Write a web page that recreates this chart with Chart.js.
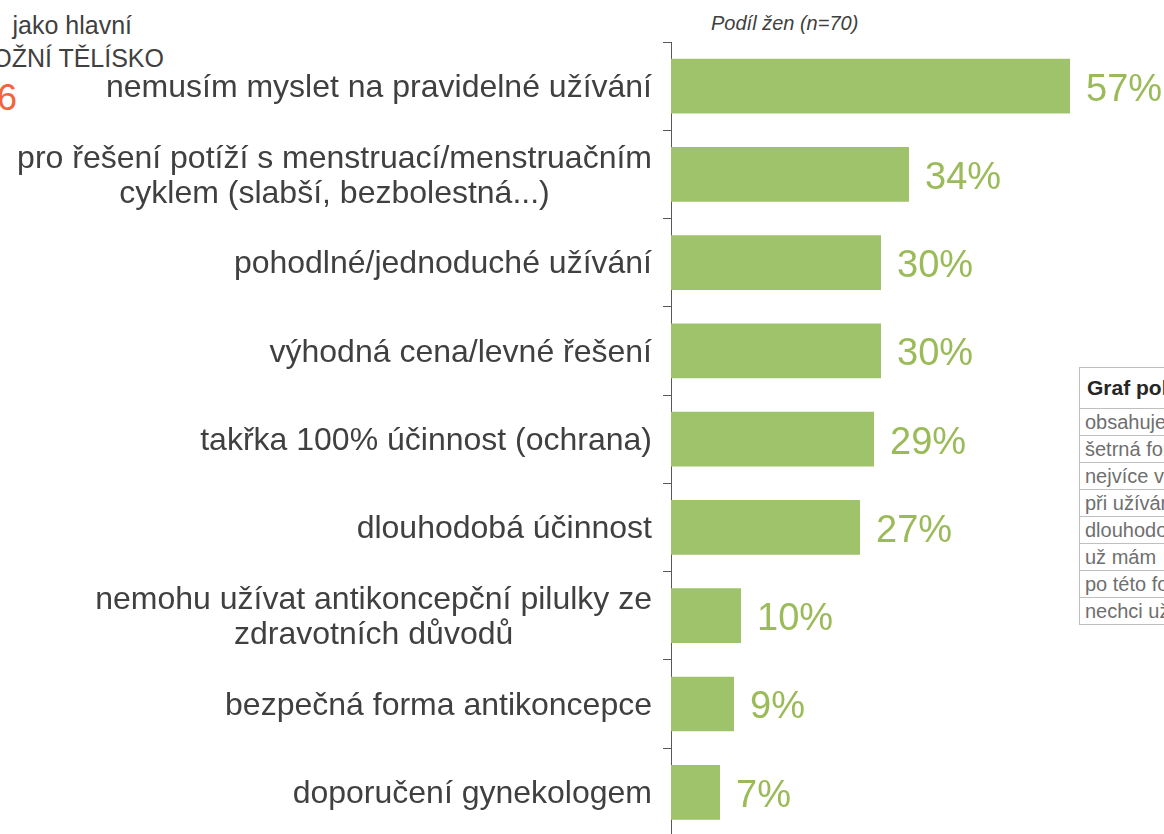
<!DOCTYPE html>
<html>
<head>
<meta charset="utf-8">
<script src="https://cdn.jsdelivr.net/npm/chart.js@4"></script>
<style>
  body { margin: 0; width: 1164px; height: 834px; overflow: hidden; position: relative; background: #fff; font-family: "Liberation Sans", Arial, sans-serif; }
  #chartBox { position: absolute; left: 0; top: 0; width: 1164px; height: 840px; }
  .side { position: absolute; color: #404040; white-space: nowrap; line-height: 1; }
  #subtitle { position: absolute; left: 711px; top: 12px; font-size: 20px; font-style: italic; color: #404040; }
  #sideTable { position: absolute; left: 1079px; top: 367px; width: 240px; border-collapse: collapse; font-size: 20px; color: #6f6f6f; }
  #sideTable th { text-align: left; font-weight: bold; font-size: 21px; color: #262626; height: 40px; padding: 0 0 0 7px; border: 1px solid #bfbfbf; }
  #sideTable td { height: 26px; padding: 0 0 0 5px; border: 1px solid #bfbfbf; white-space: nowrap; line-height: 1; }
</style>
</head>
<body>
<div class="side" style="right:1032px; top:13px; font-size:25px;">jako hlavní</div>
<div class="side" style="right:1000px; top:46px; font-size:25px;">NITRODĚLOŽNÍ TĚLÍSKO</div>
<div class="side" style="left:-3px; top:80px; font-size:36px; color:#F0663A;">6</div>
<div id="subtitle">Podíl žen (n=70)</div>
<table id="sideTable">
  <tr><th>Graf pokračuje</th></tr>
  <tr><td>obsahuje méně hormonů</td></tr>
  <tr><td>šetrná forma</td></tr>
  <tr><td>nejvíce vyhovuje</td></tr>
  <tr><td>při užívání</td></tr>
  <tr><td>dlouhodobé</td></tr>
  <tr><td>už mám</td></tr>
  <tr><td>po této formě</td></tr>
  <tr><td>nechci užívat</td></tr>
</table>
<div id="chartBox"><canvas id="chart" width="1164" height="840"></canvas></div>
<script>
const categories = [
  ["nemusím myslet na pravidelné užívání"],
  ["pro řešení potíží s menstruací/menstruačním", "cyklem (slabší, bezbolestná...)"],
  ["pohodlné/jednoduché užívání"],
  ["výhodná cena/levné řešení"],
  ["takřka 100% účinnost (ochrana)"],
  ["dlouhodobá účinnost"],
  ["nemohu užívat antikoncepční pilulky ze", "zdravotních důvodů"],
  ["bezpečná forma antikoncepce"],
  ["doporučení gynekologem"]
];
const shares = [57, 34, 30, 30, 29, 27, 10, 9, 7];

const barColor = "#9FC36A";
const valueColor = "#9BBB59";
const textColor = "#404040";

// draws the category labels (centered lines, block right-aligned) and values
const labelPlugin = {
  id: "labelPlugin",
  afterDatasetsDraw(chart) {
    const ctx = chart.ctx;
    const yScale = chart.scales.y;
    const meta = chart.getDatasetMeta(0);
    ctx.save();
    ctx.textBaseline = "middle";

    ctx.font = "32px 'Liberation Sans', Arial, sans-serif";
    ctx.fillStyle = textColor;
    const lineH = 35;
    chart.data.labels.forEach((lines, i) => {
      const y = yScale.getPixelForValue(i) + 2;
      const widest = Math.max(...lines.map(l => ctx.measureText(l).width));
      const right = yScale.right - 19;
      const cx = right - widest / 2;
      ctx.textAlign = "center";
      lines.forEach((l, j) => {
        ctx.fillText(l, cx, y + (j - (lines.length - 1) / 2) * lineH);
      });
    });

    ctx.font = "38px 'Liberation Sans', Arial, sans-serif";
    ctx.fillStyle = valueColor;
    ctx.textAlign = "left";
    meta.data.forEach((bar, i) => {
      ctx.fillText(shares[i] + "%", bar.x + 16, bar.y + 4);
    });
    ctx.restore();
  }
};

new Chart(document.getElementById("chart"), {
  type: "bar",
  data: {
    labels: categories,
    datasets: [{
      data: shares,
      backgroundColor: barColor,
      categoryPercentage: 1,
      barPercentage: 0.62
    }]
  },
  options: {
    indexAxis: "y",
    responsive: false,
    animation: false,
    layout: { padding: { top: 42, right: 3, bottom: 3, left: 0 } },
    plugins: { legend: { display: false }, tooltip: { enabled: false } },
    scales: {
      x: { display: false, min: 0, max: 70 },
      y: {
        afterFit(scale) { scale.width = 671; },
        border: { display: true, color: "#595959", width: 1 },
        grid: { offset: true, drawOnChartArea: false, tickLength: 8, color: "#595959" },
        ticks: { color: "rgba(0,0,0,0)", font: { size: 1 } }
      }
    }
  },
  plugins: [labelPlugin]
});
</script>
</body>
</html>
